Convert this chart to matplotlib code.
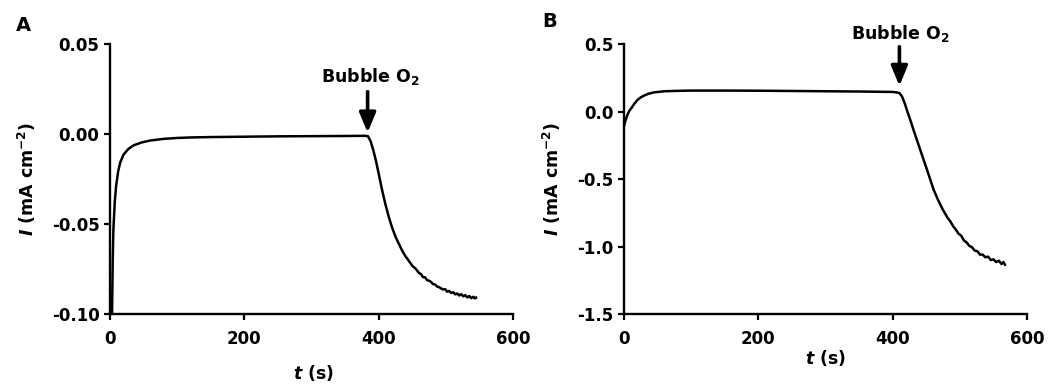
import numpy as np
import matplotlib
matplotlib.use("Agg")
import matplotlib.pyplot as plt

plt.rcParams["font.family"] = ["DejaVu Sans"]
plt.rcParams["font.weight"] = "bold"
plt.rcParams["mathtext.fontset"] = "custom"
plt.rcParams["mathtext.rm"] = "DejaVu Sans:bold"
plt.rcParams["mathtext.it"] = "DejaVu Sans:italic:bold"
plt.rcParams["mathtext.bf"] = "DejaVu Sans:bold"

# Panel A: chronoamperometry, current density (mA cm^-2) vs time (s)
t_a = [2.5, 3, 3.5, 4, 5, 7, 9, 12, 15, 20, 27, 35, 47, 60, 80, 100, 122,
       150, 200, 250, 300, 350, 380, 384, 388, 392, 396, 400, 405, 410, 415,
       420, 425, 430, 435, 440, 445, 450, 455, 460, 463, 466, 469, 472, 475,
       478, 481, 484, 487, 490, 493, 496, 499, 502, 505, 508, 511, 514, 517,
       520, 523, 526, 529, 532, 535, 538, 541, 543, 545]
i_a = [-0.12, -0.10, -0.085, -0.07, -0.053, -0.038, -0.029, -0.021, -0.016,
       -0.0115, -0.0084, -0.0063, -0.0047, -0.0036, -0.0027, -0.0022, -0.0019,
       -0.0017, -0.0015, -0.0013, -0.0012, -0.0011, -0.0010,
       -0.0012, -0.004, -0.009, -0.015, -0.022, -0.031, -0.039, -0.046,
       -0.052, -0.057, -0.061, -0.0648, -0.068, -0.0705, -0.0732, -0.0748,
       -0.0772, -0.0778, -0.0795, -0.0796, -0.0812, -0.0815, -0.0822, -0.0834,
       -0.0836, -0.0848, -0.0851, -0.0858, -0.0864, -0.0862, -0.0876, -0.0872,
       -0.0883, -0.0879, -0.0891, -0.0886, -0.0897, -0.0890, -0.0902, -0.0895,
       -0.0908, -0.0900, -0.0912, -0.0904, -0.0913, -0.0909]

# Panel B
t_b = [0.5, 2, 4, 6, 8, 11, 15, 20, 25, 30, 36, 45, 60, 80, 100, 150, 200,
       250, 300, 350, 400, 405, 410, 414, 418, 421, 426, 431, 436, 441, 446,
       451, 456, 461, 468, 475, 482, 486, 490, 494, 498, 502, 506, 510, 514,
       518, 522, 526, 530, 534, 538, 542, 546, 550, 554, 558, 562, 565, 567]
i_b = [-0.10, -0.07, -0.04, -0.015, 0.005, 0.025, 0.055, 0.085, 0.105, 0.118,
       0.131, 0.142, 0.150, 0.153, 0.155, 0.155, 0.154, 0.152, 0.150, 0.148,
       0.145, 0.142, 0.137, 0.11, 0.06, 0.013, -0.06, -0.136, -0.21, -0.284,
       -0.357, -0.43, -0.505, -0.58, -0.66, -0.73, -0.79, -0.815, -0.85,
       -0.875, -0.905, -0.92, -0.955, -0.97, -0.995, -1.005, -1.03, -1.035,
       -1.06, -1.06, -1.08, -1.075, -1.10, -1.095, -1.115, -1.105, -1.13,
       -1.115, -1.135]

x_ticks = [0, 200, 400, 600]
y_ticks_a = [-0.10, -0.05, 0.00, 0.05]
y_ticks_b = [-1.5, -1.0, -0.5, 0.0, 0.5]

fig = plt.figure(figsize=(10.48, 3.85), dpi=100)
ax_a = fig.add_axes([0.105, 0.1844, 0.3845, 0.7013])
ax_b = fig.add_axes([0.5954, 0.1844, 0.3846, 0.7013])


def style_axes(ax, yticks, yfmt, ylim):
    for side in ("top", "right"):
        ax.spines[side].set_visible(False)
    for side in ("left", "bottom"):
        ax.spines[side].set_linewidth(1.7)
    ax.set_xlim(0, 600)
    ax.set_ylim(*ylim)
    ax.set_xticks(x_ticks)
    ax.set_yticks(yticks)
    ax.set_yticklabels([yfmt.format(v) for v in yticks])
    ax.tick_params(axis="both", direction="out", length=4.5, width=1.6,
                   labelsize=12)
    ax.tick_params(axis="x", pad=7)
    ax.tick_params(axis="y", pad=3)
    for lab in ax.get_xticklabels() + ax.get_yticklabels():
        lab.set_fontweight("bold")


# --- Panel A ---
ax_a.plot(t_a, i_a, color="black", lw=1.8, clip_on=True)
style_axes(ax_a, y_ticks_a, "{:.2f}", (-0.10, 0.05))
ax_a.set_xlabel(r"$\mathit{t}$ (s)", fontsize=12.5, fontweight="bold")
ax_a.set_ylabel(r"$\mathit{I}$ (mA cm$^{-2}$)", fontsize=12.5, fontweight="bold")
ax_a.xaxis.set_label_coords(0.504, -0.219)
ax_a.xaxis.label.set_va("center")
ax_a.yaxis.set_label_coords(-0.206, 0.50)
ax_a.yaxis.label.set_va("center")
ax_a.annotate("", xy=(383.5, 0.0008), xytext=(383.5, 0.0235),
              arrowprops=dict(arrowstyle="-|>,head_length=1.2,head_width=0.5",
                              lw=2.6, color="black", shrinkA=0, shrinkB=0))
ax_a.text(387, 0.0317, r"Bubble O$_2$", ha="center", va="center",
          fontsize=12.5, fontweight="bold", clip_on=False)

# --- Panel B ---
ax_b.plot(t_b, i_b, color="black", lw=1.8)
style_axes(ax_b, y_ticks_b, "{:.1f}", (-1.5, 0.5))
ax_b.set_xlabel(r"$\mathit{t}$ (s)", fontsize=12.5, fontweight="bold")
ax_b.set_ylabel(r"$\mathit{I}$ (mA cm$^{-2}$)", fontsize=12.5, fontweight="bold")
ax_b.xaxis.set_label_coords(0.50, -0.162)
ax_b.xaxis.label.set_va("center")
ax_b.yaxis.set_label_coords(-0.179, 0.50)
ax_b.yaxis.label.set_va("center")
ax_b.annotate("", xy=(410, 0.19), xytext=(410, 0.48),
              arrowprops=dict(arrowstyle="-|>,head_length=1.2,head_width=0.5",
                              lw=2.6, color="black", shrinkA=0, shrinkB=0))
ax_b.text(411, 0.58, r"Bubble O$_2$", ha="center", va="center",
          fontsize=12.5, fontweight="bold", clip_on=False)

# Panel letters
fig.text(0.022, 0.935, "A", fontsize=14, fontweight="bold", ha="center", va="center")
fig.text(0.524, 0.943, "B", fontsize=14, fontweight="bold", ha="center", va="center")

fig.savefig("out.png", dpi=100)
